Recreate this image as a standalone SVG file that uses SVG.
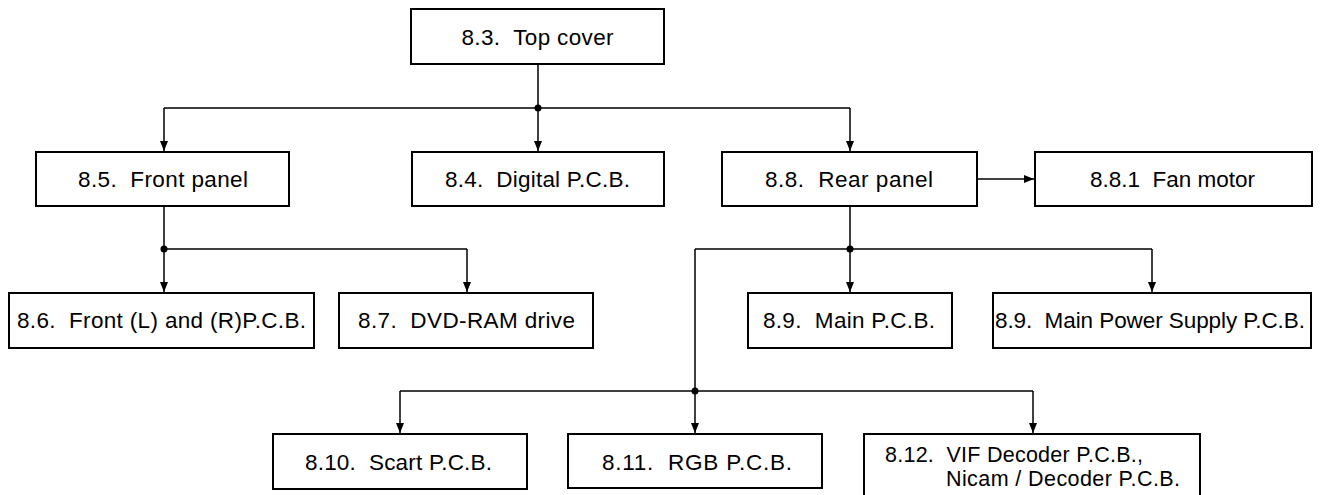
<svg xmlns="http://www.w3.org/2000/svg" width="1323" height="495" viewBox="0 0 1323 495">
<style>
.box{fill:#fff;stroke:#000;stroke-width:2}
.lbl{font-family:"Liberation Sans",Arial,Helvetica,sans-serif;font-size:22.5px;fill:#000;white-space:pre;text-anchor:middle}
.sm{font-size:21.5px}
.ln{fill:none;stroke:#000;stroke-width:1.5}
.arr{fill:none;stroke:#000;stroke-width:1.5;marker-end:url(#ah)}
.dot{fill:#000}
</style>
<defs>
<marker id="ah" viewBox="0 0 10 8" refX="10" refY="4" markerWidth="11" markerHeight="8" markerUnits="userSpaceOnUse" orient="auto">
<path d="M0,0 L10,4 L0,8 z" fill="#000"/>
</marker>
</defs>
<rect width="1323" height="495" fill="#fff"/>
<g id="connectors">
<path class="ln" d="M538,64 V108 M164,108 H850"/>
<path class="arr" d="M164,108 V151"/>
<path class="arr" d="M538,108 V151"/>
<path class="arr" d="M850,108 V151"/>
<circle class="dot" cx="538" cy="108" r="3.5"/>
<path class="ln" d="M164,206 V249 H467"/>
<path class="arr" d="M164,249 V292"/>
<path class="arr" d="M467,249 V292"/>
<circle class="dot" cx="164" cy="249" r="3.5"/>
<path class="arr" d="M977,179 H1034"/>
<path class="ln" d="M850,206 V249 M695,249 H1152 M695,249 V391 M400,391 H1033"/>
<path class="arr" d="M850,249 V292"/>
<path class="arr" d="M1152,249 V292"/>
<circle class="dot" cx="850" cy="249" r="3.5"/>
<path class="arr" d="M400,391 V433"/>
<path class="arr" d="M695,391 V433"/>
<path class="arr" d="M1033,391 V433"/>
<circle class="dot" cx="695" cy="391" r="3.5"/>
</g>
<g id="n-top"><rect class="box" x="411" y="9" width="253" height="55"/><text class="lbl" x="537.5" y="44.5" textLength="152">8.3.  Top cover</text></g>
<g id="n-front"><rect class="box" x="36" y="152" width="253" height="54"/><text class="lbl" x="163" y="187" textLength="170">8.5.  Front panel</text></g>
<g id="n-digital"><rect class="box" x="412" y="152" width="252" height="54"/><text class="lbl" x="537.5" y="187" textLength="185">8.4.  Digital P.C.B.</text></g>
<g id="n-rear"><rect class="box" x="722" y="152" width="255" height="54"/><text class="lbl" x="849" y="187" textLength="168">8.8.  Rear panel</text></g>
<g id="n-fan"><rect class="box" x="1035" y="152" width="277" height="54"/><text class="lbl" x="1172.5" y="187" textLength="165">8.8.1  Fan motor</text></g>
<g id="n-frontlr"><rect class="box" x="9" y="293" width="305" height="55"/><text class="lbl" x="161.5" y="328" textLength="289">8.6.  Front (L) and (R)P.C.B.</text></g>
<g id="n-dvd"><rect class="box" x="339" y="293" width="254" height="55"/><text class="lbl" x="466.5" y="328" textLength="217">8.7.  DVD-RAM drive</text></g>
<g id="n-main"><rect class="box" x="748" y="293" width="204" height="55"/><text class="lbl" x="849" y="328" textLength="172">8.9.  Main P.C.B.</text></g>
<g id="n-power"><rect class="box" x="993" y="293" width="318" height="55"/><text class="lbl" x="1150" y="328" textLength="310">8.9.  Main Power Supply P.C.B.</text></g>
<g id="n-scart"><rect class="box" x="273" y="434" width="254" height="55"/><text class="lbl" x="398.5" y="469.5" textLength="187">8.10.  Scart P.C.B.</text></g>
<g id="n-rgb"><rect class="box" x="568" y="434" width="254" height="54"/><text class="lbl" x="697" y="469.5" textLength="190">8.11.  RGB P.C.B.</text></g>
<g id="n-vif"><rect class="box" x="864" y="434" width="336" height="80"/><text class="lbl sm" x="1014" y="462" textLength="258">8.12.  VIF Decoder P.C.B.,</text><text class="lbl sm" x="1063" y="486" textLength="234">Nicam / Decoder P.C.B.</text></g>
</svg>
